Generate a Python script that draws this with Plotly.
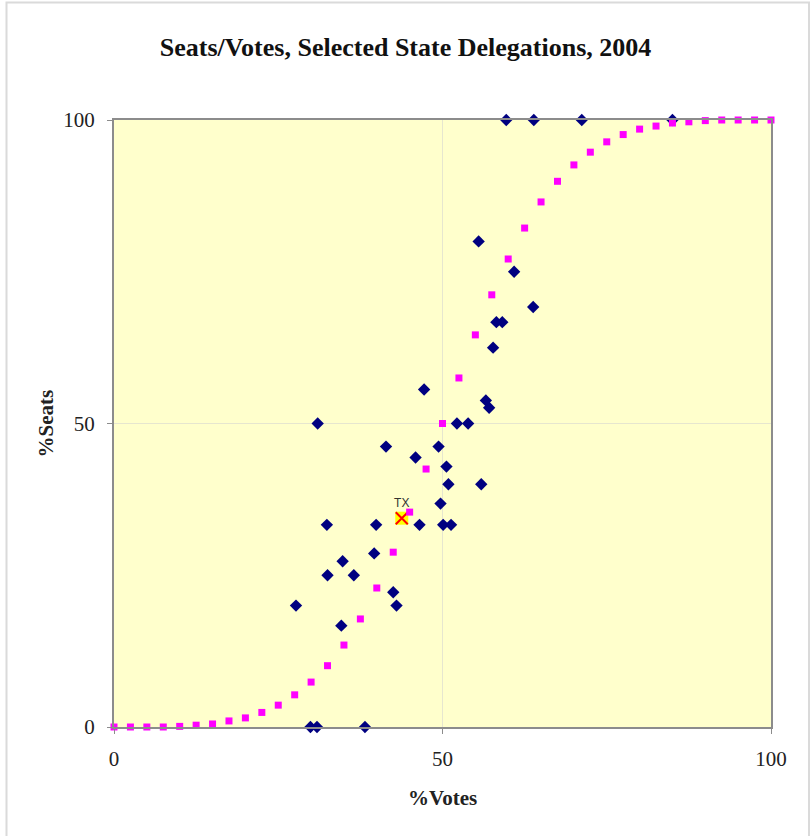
import plotly.graph_objects as go

# State delegations: Democratic % votes vs % seats (2004)
state_votes = [47.2, 56.6, 57.1, 31.0, 52.2, 53.9, 41.4, 49.4, 45.9, 50.6,
               50.9, 55.9, 49.7, 32.4, 39.9, 46.5, 50.1, 51.3, 39.6, 34.8,
               32.5, 36.5, 42.5, 27.7, 43.0, 34.6, 29.9, 30.9, 38.2, 55.5,
               60.9, 63.8, 58.2, 59.1, 57.7, 59.7, 63.9, 71.2, 85.0]
state_seats = [55.6, 53.8, 52.6, 50.0, 50.0, 50.0, 46.2, 46.2, 44.4, 42.9,
               40.0, 40.0, 36.8, 33.3, 33.3, 33.3, 33.3, 33.3, 28.6, 27.3,
               25.0, 25.0, 22.2, 20.0, 20.0, 16.7, 0.0, 0.0, 0.0, 80.0,
               75.0, 69.2, 66.7, 66.7, 62.5, 100.0, 100.0, 100.0, 100.0]

# Texas highlighted
tx_votes = [43.8]
tx_seats = [34.4]
tx_label = ["TX"]

# Reference seats/votes curve
curve_votes = [0, 2.5, 5, 7.5, 10, 12.5, 15, 17.5, 20, 22.5, 25, 27.5, 30, 32.5,
               35, 37.5, 40, 42.5, 45, 47.5, 50, 52.5, 55, 57.5, 60, 62.5, 65,
               67.5, 70, 72.5, 75, 77.5, 80, 82.5, 85, 87.5, 90, 92.5, 95, 97.5, 100]
curve_seats = [0, 0, 0, 0, 0.1, 0.3, 0.5, 1.0, 1.5, 2.4, 3.6, 5.3, 7.4, 10.1,
               13.5, 17.8, 22.9, 28.8, 35.4, 42.5, 50, 57.5, 64.6, 71.2, 77.1, 82.2, 86.5,
               89.9, 92.6, 94.7, 96.4, 97.6, 98.5, 99.0, 99.5, 99.7, 99.9, 100, 100, 100, 100]

tick_vals = [0, 50, 100]
tick_text = ["0", "50", "100"]

W, H = 811, 836
L, R, T, B = 114, 771, 120, 727

fig = go.Figure()
fig.add_trace(go.Scatter(x=state_votes, y=state_seats, mode="markers",
                         marker=dict(symbol="diamond", size=9.5, color="#000080",
                                     line=dict(width=0)),
                         cliponaxis=False, showlegend=False))
fig.add_trace(go.Scatter(x=tx_votes, y=tx_seats, mode="markers",
                         marker=dict(symbol="square", size=13, color="#FFFF00",
                                     line=dict(width=0)),
                         cliponaxis=False, showlegend=False))
fig.add_trace(go.Scatter(x=tx_votes, y=tx_seats, mode="markers+text",
                         text=tx_label, textposition="top center",
                         textfont=dict(family="Liberation Sans, Arial", size=12, color="#333333"),
                         marker=dict(symbol="x-thin", size=12, color="#FF0000",
                                     line=dict(width=2, color="#FF0000")),
                         cliponaxis=False, showlegend=False))
fig.add_trace(go.Scatter(x=curve_votes, y=curve_seats, mode="markers",
                         marker=dict(symbol="square", size=7, color="#FF00FF",
                                     line=dict(width=0)),
                         cliponaxis=False, showlegend=False))

axis_common = dict(range=[0, 100], tickvals=tick_vals, ticktext=tick_text,
                   showgrid=True, gridcolor="#E6E6CF", gridwidth=1,
                   showline=True, linecolor="#8C8C8C", linewidth=2, mirror=True,
                   ticks="outside", ticklen=5, tickcolor="#8C8C8C",
                   zeroline=False, fixedrange=True,
                   tickfont=dict(family="Liberation Serif, serif", size=21, color="#222222"))

fig.update_xaxes(**axis_common, ticklabelstandoff=7)
fig.update_yaxes(**axis_common, ticklabelstandoff=8)

pw, ph = R - L, B - T
def px(x):
    return (x - L) / pw
def py(y):
    return (B - y) / ph

fig.update_layout(
    width=W, height=H,
    margin=dict(l=L, r=W - R, t=T, b=H - B, autoexpand=False),
    paper_bgcolor="#FFFFFF", plot_bgcolor="#FFFFCC",
    title=dict(text="<b>Seats/Votes, Selected State Delegations, 2004</b>",
               x=0.5, xref="container", xanchor="center",
               y=1 - 47 / H, yref="container", yanchor="middle",
               font=dict(family="Liberation Serif, serif", size=26, color="#111111")),
    annotations=[
        dict(text="<b>%Votes</b>", xref="paper", yref="paper",
             x=0.5, y=py(798), xanchor="center", yanchor="middle", showarrow=False,
             font=dict(family="Liberation Serif, serif", size=21, color="#222222")),
        dict(text="<b>%Seats</b>", xref="paper", yref="paper",
             x=px(45), y=0.5, xanchor="center", yanchor="middle", showarrow=False,
             textangle=-90,
             font=dict(family="Liberation Serif, serif", size=21, color="#222222")),
    ],
    shapes=[dict(type="rect", xref="paper", yref="paper",
                 x0=px(6.5), x1=px(809), y0=py(845), y1=py(2.5),
                 line=dict(color="#DADADA", width=2), fillcolor="rgba(0,0,0,0)",
                 layer="below")],
)

fig.write_html("out.html",
               config={"displayModeBar": False},
               post_script="document.body.style.margin='0';document.body.style.overflow='hidden';")
